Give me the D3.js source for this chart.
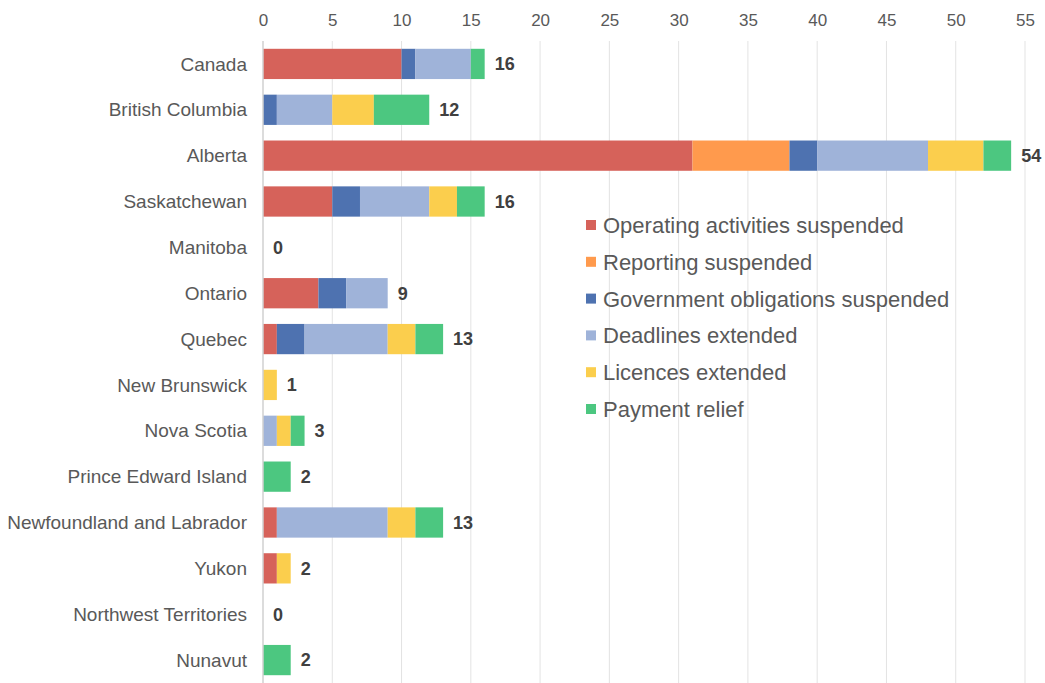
<!DOCTYPE html>
<html>
<head>
<meta charset="utf-8">
<script src="https://cdn.jsdelivr.net/npm/d3@7"></script>
<style>
  body { margin: 0; background: #fff; }
  text { font-family: "Liberation Sans", Arial, sans-serif; }
</style>
</head>
<body>
<div id="chart"></div>
<script>
// categories and series
var regions = ["Canada", "British Columbia", "Alberta", "Saskatchewan", "Manitoba", "Ontario",
  "Quebec", "New Brunswick", "Nova Scotia", "Prince Edward Island",
  "Newfoundland and Labrador", "Yukon", "Northwest Territories", "Nunavut"];
var seriesNames = ["Operating activities suspended", "Reporting suspended",
  "Government obligations suspended", "Deadlines extended", "Licences extended", "Payment relief"];
var operating   = [10, 0, 31, 5, 0, 4, 1, 0, 0, 0, 1, 1, 0, 0];
var reporting   = [0, 0, 7, 0, 0, 0, 0, 0, 0, 0, 0, 0, 0, 0];
var government  = [1, 1, 2, 2, 0, 2, 2, 0, 0, 0, 0, 0, 0, 0];
var deadlines   = [4, 4, 8, 5, 0, 3, 6, 0, 1, 0, 8, 0, 0, 0];
var licences    = [0, 3, 4, 2, 0, 0, 2, 1, 1, 0, 2, 1, 0, 0];
var payment     = [1, 4, 2, 2, 0, 0, 2, 0, 1, 2, 2, 0, 0, 2];
var xTicks = [0, 5, 10, 15, 20, 25, 30, 35, 40, 45, 50, 55];
var colors = ["#d6625a", "#ff9a4d", "#4e72b0", "#9fb3d9", "#fbce4d", "#4cc780"];

var seriesValues = [operating, reporting, government, deadlines, licences, payment];
var rows = regions.map(function(r, i) {
  var o = { region: r };
  seriesNames.forEach(function(s, j) { o[s] = seriesValues[j][i]; });
  o.total = d3.sum(seriesValues, function(v) { return v[i]; });
  return o;
});

var margin = {top: 41, right: 21, bottom: 0, left: 263},
    width = 1045 - margin.left - margin.right,
    height = 683 - margin.top - margin.bottom;

var svg = d3.select("#chart").append("svg")
    .attr("width", 1045)
    .attr("height", 683)
  .append("g")
    .attr("transform", "translate(" + margin.left + "," + margin.top + ")");

var x = d3.scaleLinear().domain([0, 55]).range([0, 762]);
var y = d3.scaleBand().domain(regions).range([0, 642]).paddingInner(0.34).paddingOuter(0.17);

// gridlines
svg.selectAll(".grid").data(xTicks.slice(1)).enter().append("line")
  .attr("x1", function(d) { return x(d); }).attr("x2", function(d) { return x(d); })
  .attr("y1", 0).attr("y2", 642)
  .attr("stroke", "#e3e3e3").attr("stroke-width", 1);

// top axis
var xAxis = svg.append("g")
  .call(d3.axisTop(x).tickValues(xTicks).tickSize(0).tickPadding(15));
xAxis.select(".domain").remove();
xAxis.selectAll("text").style("font-size", "17px").attr("fill", "#595959")
  .style("font-family", "Liberation Sans, Arial, sans-serif");

// stacked bars
var stack = d3.stack().keys(seriesNames);
var layers = stack(rows);
svg.selectAll(".layer").data(layers).enter().append("g")
  .attr("fill", function(d, i) { return colors[i]; })
  .selectAll("rect").data(function(d) { return d; }).enter().append("rect")
  .attr("x", function(d) { return x(d[0]); })
  .attr("width", function(d) { return x(d[1]) - x(d[0]); })
  .attr("y", function(d) { return y(d.data.region); })
  .attr("height", y.bandwidth());

// zero line
svg.append("line").attr("x1", x(0)).attr("x2", x(0)).attr("y1", 0).attr("y2", 642)
  .attr("stroke", "#d0d0d0").attr("stroke-width", 1.5);

// category labels
svg.selectAll(".cat").data(regions).enter().append("text")
  .attr("x", -16)
  .attr("y", function(d) { return y(d) + y.bandwidth() / 2; })
  .attr("dy", "0.35em")
  .attr("text-anchor", "end")
  .style("font-size", "19px")
  .attr("fill", "#595959")
  .text(function(d) { return d; });

// totals
svg.selectAll(".total").data(rows).enter().append("text")
  .attr("x", function(d) { return x(d.total) + 10; })
  .attr("y", function(d) { return y(d.region) + y.bandwidth() / 2; })
  .attr("dy", "0.35em")
  .style("font-size", "18px")
  .style("font-weight", "bold")
  .attr("fill", "#404040")
  .text(function(d) { return d.total; });

// legend
var legend = svg.append("g").attr("transform", "translate(" + (586 - margin.left) + "," + (225 - margin.top) + ")");
seriesNames.forEach(function(s, i) {
  var g = legend.append("g").attr("transform", "translate(0," + (i * 36.8) + ")");
  g.append("rect").attr("x", 0).attr("y", -5).attr("width", 10).attr("height", 10).attr("fill", colors[i]);
  g.append("text").attr("x", 17).attr("y", 0).attr("dy", "0.36em")
    .style("font-size", "22px").attr("fill", "#595959").text(s);
});
</script>
</body>
</html>
